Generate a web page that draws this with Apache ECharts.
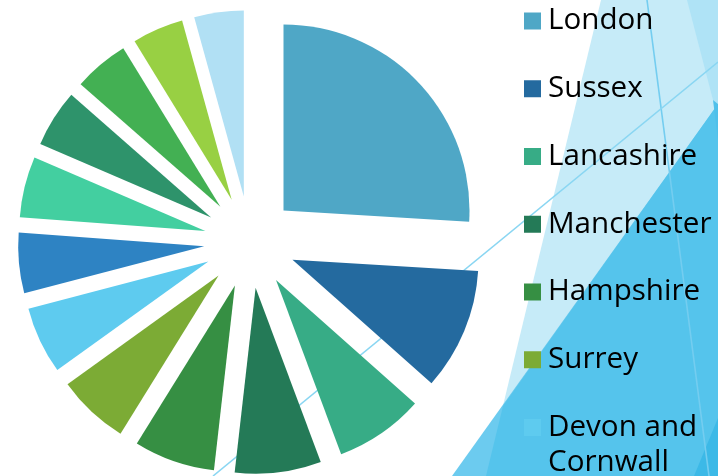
<!DOCTYPE html>
<html>
<head>
<meta charset="utf-8">
<script src="https://cdn.jsdelivr.net/npm/echarts@6/dist/echarts.min.js"></script>
<style>
  html, body { margin: 0; padding: 0; background: #ffffff; }
  #chart { width: 718px; height: 476px; }
</style>
</head>
<body>
<div id="chart"></div>
<script>
// Slice names (clockwise from 12 o'clock); only the first seven are visible in the legend
const categories = ['London', 'Sussex', 'Lancashire', 'Manchester', 'Hampshire', 'Surrey', 'Devon and Cornwall', '', ' ', '  ', '   ', '    ', '     '];
// Share of each slice (%)
const values = [26.0, 10.6, 7.75, 7.5, 7.05, 6.25, 5.85, 5.25, 5.3, 5.0, 4.8, 4.45, 4.3];
const colors = ['#4fa7c6', '#246a9f', '#37ac86', '#247a57', '#368f43', '#7cab35', '#5ecbef',
                '#2e83c3', '#43cfa0', '#2e936b', '#43b053', '#98d043', '#b1e0f4'];
const legendMain = ['London', 'Sussex', 'Lancashire', 'Manchester', 'Hampshire', 'Surrey'];
const legendLast = ['Devon and Cornwall'];

const chart = echarts.init(document.getElementById('chart'), null, { renderer: 'canvas' });

const textStyle = { fontFamily: 'Open Sans', fontSize: 29.6, color: '#000000', lineHeight: 30, padding: [0, 0, 0, 2] };

const bg = (pts, fill) => ({ type: 'polygon', z: 0, silent: true, shape: { points: pts }, style: { fill: fill } });
const ln = (x1, y1, x2, y2, c) => ({ type: 'line', z: 0, silent: true, shape: { x1, y1, x2, y2 }, style: { stroke: c, lineWidth: 1.6 } });

chart.setOption({
  animation: false,
  backgroundColor: '#ffffff',
  graphic: {
    elements: [
      bg([[601, 0], [718, 0], [718, 476], [486, 476]], '#c6ebf8'),
      bg([[718, 104], [718, 476], [452, 476]], '#6ccbef'),
      bg([[718, 104], [718, 476], [486, 476], [503, 406]], '#55c4ec'),
      bg([[687, 0], [718, 0], [718, 104], [713, 100]], '#afe3f6'),
      bg([[718, 104], [713, 100], [718, 140]], '#4fc0ea'),
      bg([[718, 418], [718, 476], [694, 476]], '#3cb9e7'),
      ln(647, 0, 709, 476, '#74cdf0'),
      ln(718, 62, 213, 476, '#8ad6f2')
    ]
  },
  legend: [
    {
      data: legendMain,
      orient: 'vertical',
      left: 524,
      top: 6,
      padding: 0,
      itemWidth: 17,
      itemHeight: 17,
      itemGap: 37.75,
      icon: 'rect',
      selectedMode: false,
      textStyle: textStyle
    },
    {
      data: legendLast,
      orient: 'vertical',
      left: 524,
      top: 375,
      padding: 0,
      itemWidth: 17,
      itemHeight: 17,
      icon: 'rect',
      selectedMode: false,
      formatter: function () { return '\nDevon and\nCornwall'; },
      textStyle: Object.assign({}, textStyle, { lineHeight: 35 })
    }
  ],
  series: [{
    type: 'pie',
    center: [250, 242],
    radius: [0, 186],
    startAngle: 90,
    clockwise: true,
    selectedMode: 'multiple',
    selectedOffset: 46,
    avoidLabelOverlap: false,
    label: { show: false },
    labelLine: { show: false },
    emphasis: { disabled: true },
    itemStyle: { borderWidth: 0 },
    data: categories.map((n, i) => ({
      name: n,
      value: values[i],
      selected: true,
      itemStyle: { color: colors[i] }
    }))
  }]
});
</script>
</body>
</html>
